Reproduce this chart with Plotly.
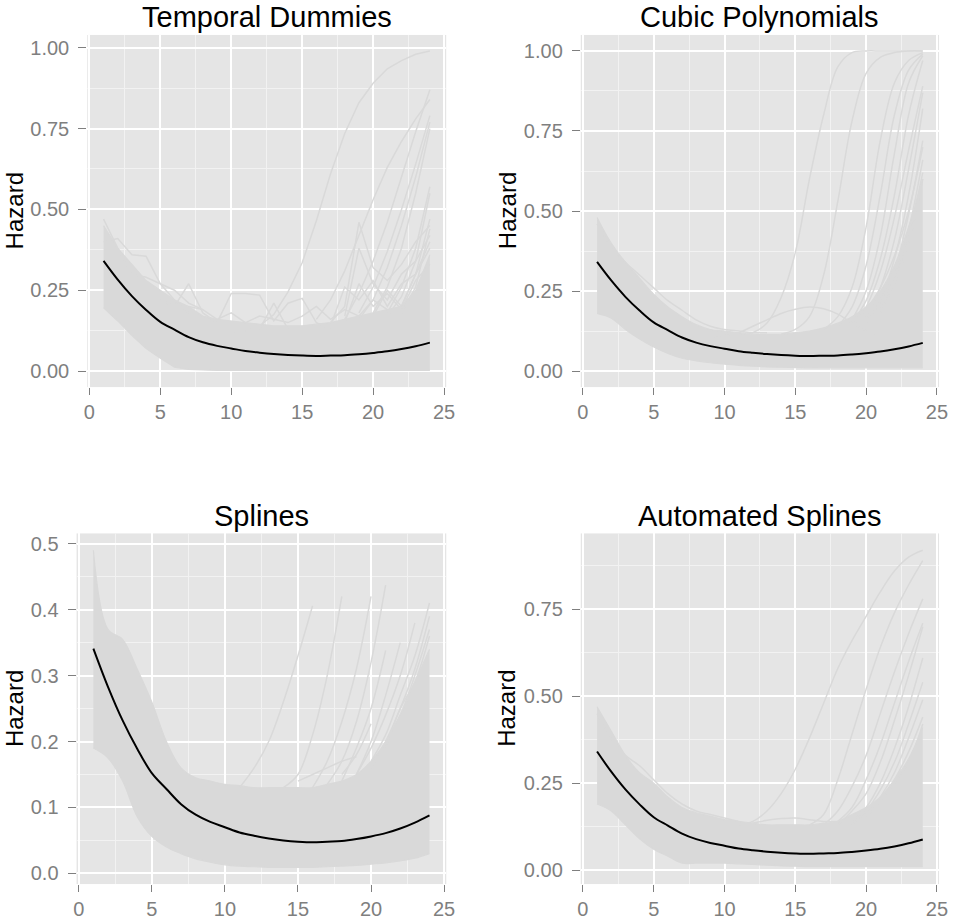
import plotly.graph_objects as go

# ---------------------------------------------------------------- data
t = list(range(1, 25))

# true baseline hazard (black curve, same in every panel)
true_hazard = [0.341, 0.283, 0.232, 0.189, 0.152, 0.128, 0.105, 0.089, 0.078, 0.070,
               0.062, 0.057, 0.053, 0.050, 0.048, 0.047, 0.048, 0.049, 0.052, 0.056,
               0.061, 0.068, 0.077, 0.088]

N = None

# --- Temporal Dummies: envelope of the bulk of simulated hazards
td_upper = [0.45, 0.38, 0.33, 0.28, 0.25, 0.22, 0.20, 0.17, 0.16, 0.155, 0.15, 0.145,
            0.14, 0.14, 0.14, 0.145, 0.15, 0.16, 0.17, 0.18, 0.19, 0.20, 0.25, 0.36]
td_lower = [0.196, 0.155, 0.11, 0.07, 0.04, 0.012, 0.005, 0.003, 0.002, 0.002, 0.002, 0.002,
            0.002, 0.002, 0.002, 0.002, 0.002, 0.002, 0.002, 0.002, 0.002, 0.002, 0.002, 0.002]
td_lines = [
    [0.40, 0.41, 0.36, 0.355, 0.27, 0.22, 0.18, N, N, N, N, N, N, N, N, N, N, N, N, N, N, N, N, N],
    [0.47, 0.38, 0.30, 0.29, 0.27, 0.25, 0.21, 0.19, N, N, N, N, N, N, N, N, N, N, N, N, N, N, N, N],
    [N, N, N, N, 0.22, 0.20, 0.27, 0.18, 0.15, N, N, N, N, N, N, N, N, N, N, N, N, N, N, N],
    [N, N, N, N, N, N, 0.20, 0.19, 0.16, 0.18, 0.15, 0.17, 0.16, 0.15, 0.17, 0.20, 0.16, 0.19, 0.17, 0.22, 0.19, N, N, N],
    [N, N, N, N, N, N, N, N, 0.15, 0.24, 0.24, 0.235, 0.155, 0.21, 0.225, 0.15, 0.13, N, N, N, N, N, N, N],
    [N, N, N, N, N, N, N, N, N, N, N, 0.13, 0.21, 0.13, N, N, N, N, N, N, N, N, N, N],
    [N, N, N, N, N, N, N, N, N, N, N, N, N, N, N, N, 0.15, 0.20, 0.46, 0.32, 0.28, 0.33, 0.40, 0.45],
    [N, N, N, N, N, N, N, N, N, N, N, N, N, N, N, N, N, 0.17, 0.38, 0.27, 0.22, 0.30, 0.34, 0.42],
    [N, N, N, N, N, N, N, N, N, N, N, N, N, N, N, N, 0.14, 0.26, 0.22, 0.28, 0.20, 0.27, 0.30, 0.40],
    [N, N, N, N, N, N, N, N, N, N, N, N, N, N, N, N, N, 0.15, 0.27, 0.20, 0.24, 0.19, 0.28, 0.33],
    [N, N, N, N, N, N, N, N, N, N, N, N, N, N, N, N, N, N, N, 0.17, 0.25, 0.20, 0.30, 0.38],
    [N, N, N, N, N, N, N, N, N, 0.12, 0.125, 0.14, 0.175, 0.245, 0.335, 0.465, 0.61, 0.735, 0.83, 0.89, 0.935, 0.96, 0.98, 0.99],
    [N, N, N, N, N, N, N, N, N, N, N, N, N, N, N, 0.16, 0.22, 0.31, 0.42, 0.53, 0.63, 0.71, 0.78, 0.84],
    [N, N, N, N, N, N, N, N, N, N, N, N, N, N, N, N, N, 0.16, 0.24, 0.34, 0.46, 0.60, 0.74, 0.87],
    [N, N, N, N, N, N, N, N, N, N, N, N, N, N, N, N, N, N, 0.18, 0.26, 0.37, 0.50, 0.64, 0.79],
    [N, N, N, N, N, N, N, N, N, N, N, N, N, N, N, N, N, N, 0.16, 0.22, 0.32, 0.45, 0.60, 0.77],
    [N, N, N, N, N, N, N, N, N, N, N, N, N, N, N, N, N, N, N, 0.18, 0.26, 0.38, 0.55, 0.75],
    [N, N, N, N, N, N, N, N, N, N, N, N, N, N, N, N, N, N, N, N, 0.18, 0.26, 0.38, 0.57],
    [N, N, N, N, N, N, N, N, N, N, N, N, N, N, N, N, N, N, N, N, 0.17, 0.23, 0.34, 0.55],
    [N, N, N, N, N, N, N, N, N, N, N, N, N, N, N, N, N, N, N, N, N, 0.20, 0.30, 0.47],
    [N, N, N, N, N, N, N, N, N, N, N, N, N, N, N, N, N, N, N, N, N, 0.18, 0.26, 0.44],
]

# --- Cubic Polynomials
cp_upper = [0.48, 0.40, 0.34, 0.29, 0.24, 0.20, 0.17, 0.145, 0.13, 0.125, 0.12, 0.115,
            0.115, 0.115, 0.12, 0.125, 0.135, 0.15, 0.17, 0.20, 0.25, 0.33, 0.45, 0.60]
cp_lower = [0.18, 0.165, 0.13, 0.10, 0.075, 0.055, 0.04, 0.032, 0.026, 0.022, 0.018, 0.015,
            0.013, 0.012, 0.011, 0.01, 0.01, 0.01, 0.01, 0.01, 0.01, 0.01, 0.01, 0.01]
cp_lines = [
    [N, N, N, N, N, N, N, N, N, N, 0.11, 0.12, 0.15, 0.23, 0.37, 0.60, 0.80, 0.95, 0.995, 1.0, 1.0, 1.0, 1.0, 1.0],
    [N, N, N, N, N, N, N, N, N, N, N, N, N, 0.115, 0.13, 0.17, 0.30, 0.53, 0.78, 0.93, 0.98, 0.995, 1.0, 1.0],
    [N, N, N, N, N, N, N, N, N, N, N, N, N, N, N, N, 0.13, 0.17, 0.26, 0.45, 0.72, 0.90, 0.97, 0.995],
    [N, N, N, N, N, N, N, N, N, N, N, N, N, N, N, N, N, 0.14, 0.20, 0.33, 0.55, 0.80, 0.94, 0.99],
    [N, N, N, N, N, N, N, N, N, N, N, N, N, N, N, N, N, N, 0.16, 0.25, 0.42, 0.68, 0.90, 0.985],
    [N, N, N, N, N, N, N, N, N, N, N, N, N, N, N, N, N, N, 0.15, 0.22, 0.35, 0.55, 0.80, 0.97],
    [N, N, N, N, N, N, N, N, N, N, N, N, N, N, N, N, N, N, 0.14, 0.20, 0.31, 0.48, 0.69, 0.89],
    [N, N, N, N, N, N, N, N, N, N, N, N, N, N, N, N, N, N, N, 0.17, 0.26, 0.41, 0.63, 0.87],
    [N, N, N, N, N, N, N, N, N, N, N, N, N, N, N, N, N, N, N, 0.15, 0.22, 0.35, 0.55, 0.82],
    [N, N, N, N, N, N, N, N, N, N, N, N, N, N, N, N, N, N, N, N, 0.20, 0.31, 0.49, 0.72],
    [N, N, N, N, N, N, N, N, N, N, N, N, N, N, N, N, N, N, N, 0.19, 0.26, 0.36, 0.50, 0.70],
    [N, N, N, N, N, N, N, N, N, N, N, N, N, N, N, N, N, N, N, N, 0.18, 0.28, 0.44, 0.66],
    [N, N, N, N, N, N, N, N, N, N, N, N, N, N, N, N, N, N, N, N, 0.22, 0.30, 0.43, 0.62],
    [N, N, N, N, N, N, N, N, N, N, N, N, N, N, N, N, N, N, N, N, N, 0.27, 0.40, 0.60],
    [N, N, N, N, N, N, N, N, 0.10, 0.11, 0.12, 0.14, 0.16, 0.18, 0.193, 0.20, 0.195, 0.178, 0.15, 0.125, 0.10, N, N, N],
    [0.46, 0.39, 0.34, 0.30, 0.26, 0.22, 0.19, 0.16, 0.14, 0.13, 0.125, 0.12, 0.12, N, N, N, N, N, N, N, N, N, N, N],
]

# --- Splines
sp_upper = [0.49, 0.37, 0.355, 0.31, 0.26, 0.20, 0.16, 0.145, 0.14, 0.135, 0.133, 0.13,
            0.13, 0.13, 0.13, 0.13, 0.135, 0.14, 0.15, 0.17, 0.20, 0.24, 0.29, 0.34]
sp_lower = [0.19, 0.175, 0.14, 0.086, 0.056, 0.04, 0.03, 0.022, 0.017, 0.013, 0.011, 0.01,
            0.009, 0.009, 0.009, 0.009, 0.01, 0.011, 0.012, 0.014, 0.016, 0.019, 0.023, 0.03]
sp_lines = [
    [N, N, N, N, N, N, N, N, N, N, 0.13, 0.16, 0.20, 0.26, 0.33, 0.406, N, N, N, N, N, N, N, N],
    [N, N, N, N, N, N, N, N, N, N, N, N, N, 0.13, 0.15, 0.21, 0.30, 0.42, N, N, N, N, N, N],
    [N, N, N, N, N, N, N, N, N, N, N, N, N, N, N, 0.13, 0.17, 0.23, 0.31, 0.42, N, N, N, N],
    [N, N, N, N, N, N, N, N, N, N, N, N, N, N, N, N, 0.135, 0.17, 0.23, 0.32, 0.437, N, N, N],
    [N, N, N, N, N, N, N, N, N, N, N, N, N, N, N, N, N, 0.14, 0.19, 0.25, 0.338, N, N, N],
    [N, N, N, N, N, N, N, N, N, N, N, N, N, N, N, N, N, N, 0.15, 0.19, 0.24, 0.30, 0.38, N],
    [N, N, N, N, N, N, N, N, N, N, N, N, N, N, N, N, N, N, 0.15, 0.20, 0.27, 0.35, N, N],
    [N, N, N, N, N, N, N, N, N, N, N, N, N, N, N, N, N, N, N, 0.17, 0.21, 0.27, 0.33, 0.41],
    [N, N, N, N, N, N, N, N, N, N, N, N, N, N, N, N, N, N, N, 0.16, 0.20, 0.25, 0.31, 0.39],
    [N, N, N, N, N, N, N, N, N, N, N, N, N, N, N, N, N, N, N, N, 0.20, 0.24, 0.30, 0.37],
    [N, N, N, N, N, N, N, N, N, N, N, N, N, N, N, N, N, N, N, N, 0.19, 0.25, 0.29, 0.36],
    [N, N, N, N, N, N, N, N, N, N, N, N, N, N, 0.14, 0.15, 0.16, 0.17, 0.177, N, N, N, N, N],
    [N, N, N, N, N, N, N, N, N, N, N, N, N, N, N, N, N, 0.15, 0.18, 0.227, N, N, N, N],
]

# --- Automated Splines
as_upper = [0.47, 0.40, 0.33, 0.28, 0.25, 0.21, 0.18, 0.165, 0.155, 0.145, 0.14, 0.135,
            0.13, 0.13, 0.13, 0.13, 0.135, 0.14, 0.16, 0.18, 0.21, 0.26, 0.32, 0.41]
as_lower = [0.19, 0.17, 0.13, 0.09, 0.06, 0.04, 0.02, 0.02, 0.02, 0.02, 0.018, 0.016,
            0.014, 0.012, 0.011, 0.01, 0.01, 0.01, 0.01, 0.01, 0.01, 0.01, 0.01, 0.01]
as_lines = [
    [N, N, N, N, N, N, N, N, N, N, 0.13, 0.14, 0.17, 0.22, 0.29, 0.38, 0.48, 0.58, 0.66, 0.73, 0.80, 0.86, 0.90, 0.92],
    [N, N, N, N, N, N, N, N, N, N, N, N, N, N, N, 0.13, 0.16, 0.26, 0.39, 0.52, 0.64, 0.74, 0.82, 0.89],
    [N, N, N, N, N, N, N, N, N, N, N, N, N, N, N, N, 0.13, 0.17, 0.24, 0.33, 0.45, 0.57, 0.68, 0.78],
    [N, N, N, N, N, N, N, N, N, N, N, N, N, N, N, N, N, 0.14, 0.18, 0.26, 0.36, 0.48, 0.60, 0.71],
    [N, N, N, N, N, N, N, N, N, N, N, N, N, N, N, N, N, 0.13, 0.17, 0.22, 0.31, 0.43, 0.56, 0.70],
    [N, N, N, N, N, N, N, N, N, N, N, N, N, N, N, N, N, N, 0.14, 0.18, 0.25, 0.35, 0.47, 0.61],
    [N, N, N, N, N, N, N, N, N, N, N, N, N, N, N, N, N, N, 0.13, 0.17, 0.23, 0.31, 0.42, 0.54],
    [N, N, N, N, N, N, N, N, N, N, N, N, N, N, N, N, N, N, N, 0.16, 0.21, 0.28, 0.38, 0.49],
    [N, N, N, N, N, N, N, N, N, N, N, N, N, N, N, N, N, N, N, 0.15, 0.20, 0.26, 0.34, 0.44],
    [N, N, N, N, N, N, N, N, N, N, N, N, N, N, N, N, N, N, N, N, 0.20, 0.25, 0.31, 0.42],
    [N, N, N, N, N, N, N, N, N, N, 0.13, 0.135, 0.143, 0.148, 0.15, 0.145, 0.14, 0.14, N, N, N, N, N, N],
    [0.45, 0.38, 0.33, 0.30, 0.26, 0.22, 0.19, 0.17, 0.16, 0.15, 0.14, N, N, N, N, N, N, N, N, N, N, N, N, N],
]

titles = ["Temporal Dummies", "Cubic Polynomials", "Splines", "Automated Splines"]
y_label = "Hazard"

# ---------------------------------------------------------------- layout helpers
W, H = 959, 922
FONT = "Liberation Sans, Arial, Helvetica, sans-serif"
BG = "#E5E5E5"
SIM = "#D9D9D9"
TICK = "#7F7F7F"


def px_x(p):
    return p / W


def px_y(p):
    return 1 - p / H


panels = [
    dict(title=titles[0], upper=td_upper, lower=td_lower, lines=td_lines, shape="linear",
         xdom=(85.3, 448.8), ydom=(34, 386.5), yrange=(-0.0495, 1.0395),
         yticks=[0, 0.25, 0.5, 0.75, 1.0], fmt=".2f", ydt=0.125, title_y=16),
    dict(title=titles[1], upper=cp_upper, lower=cp_lower, lines=cp_lines, shape="spline",
         xdom=(585.1, 947.9), ydom=(34, 386.5), yrange=(-0.05, 1.05),
         yticks=[0, 0.25, 0.5, 0.75, 1.0], fmt=".2f", ydt=0.125, title_y=16),
    dict(title=titles[2], upper=sp_upper, lower=sp_lower, lines=sp_lines, shape="spline",
         xdom=(74.5, 448.9), ydom=(533, 884), yrange=(-0.0162, 0.5156),
         yticks=[0, 0.1, 0.2, 0.3, 0.4, 0.5], fmt=".1f", ydt=0.05, title_y=516),
    dict(title=titles[3], upper=as_upper, lower=as_lower, lines=as_lines, shape="spline",
         xdom=(585.1, 947.9), ydom=(533, 884), yrange=(-0.0402, 0.9684),
         yticks=[0, 0.25, 0.5, 0.75], fmt=".2f", ydt=0.125, title_y=516),
]

fig = go.Figure()
annotations = []

for i, p in enumerate(panels, start=1):
    xa = "x" if i == 1 else f"x{i}"
    ya = "y" if i == 1 else f"y{i}"

    # bulk of the simulated hazard curves: lower edge, then upper edge filled down to it
    fig.add_trace(go.Scatter(
        x=t, y=p["lower"], mode="lines",
        line=dict(color=SIM, width=1.2, shape=p["shape"]),
        hoverinfo="skip", showlegend=False, xaxis=xa, yaxis=ya))
    fig.add_trace(go.Scatter(
        x=t, y=p["upper"], mode="lines", fill="tonexty", fillcolor=SIM,
        line=dict(color=SIM, width=1.2, shape=p["shape"]),
        hoverinfo="skip", showlegend=False, xaxis=xa, yaxis=ya))

    # individual simulated curves that stray from the bulk
    for ln in p["lines"]:
        fig.add_trace(go.Scatter(
            x=t, y=ln, mode="lines", connectgaps=False,
            line=dict(color=SIM, width=1.5, shape=p["shape"]),
            hoverinfo="skip", showlegend=False, xaxis=xa, yaxis=ya))

    # true hazard
    fig.add_trace(go.Scatter(
        x=t, y=true_hazard, mode="lines",
        line=dict(color="black", width=2, shape="spline"),
        showlegend=False, xaxis=xa, yaxis=ya))

    xkey = "xaxis" if i == 1 else f"xaxis{i}"
    ykey = "yaxis" if i == 1 else f"yaxis{i}"
    fig.layout[xkey] = dict(
        domain=[px_x(p["xdom"][0]), px_x(p["xdom"][1])], anchor=ya,
        range=[-0.15, 25.15], tickvals=[0, 5, 10, 15, 20, 25],
        ticks="outside", ticklen=7, tickwidth=1.4, tickcolor=TICK,
        tickfont=dict(family=FONT, size=20, color=TICK),
        showgrid=True, gridcolor="white", gridwidth=2, zeroline=False, showline=False,
        minor=dict(dtick=2.5, tick0=0, showgrid=True, gridcolor="#F2F2F2", gridwidth=1, ticks=""),
        fixedrange=True)
    fig.layout[ykey] = dict(
        domain=[px_y(p["ydom"][1]), px_y(p["ydom"][0])], anchor=xa,
        range=list(p["yrange"]), tickvals=p["yticks"], tickformat=p["fmt"],
        ticks="outside", ticklen=8, tickwidth=1.4, tickcolor=TICK, ticklabelstandoff=5,
        tickfont=dict(family=FONT, size=20, color=TICK),
        showgrid=True, gridcolor="white", gridwidth=2, zeroline=False, showline=False,
        minor=dict(dtick=p["ydt"], tick0=0, showgrid=True, gridcolor="#F2F2F2", gridwidth=1, ticks=""),
        fixedrange=True)

    cx = (p["xdom"][0] + p["xdom"][1]) / 2
    annotations.append(dict(
        text=p["title"], x=px_x(cx), y=px_y(p["title_y"]), xref="paper", yref="paper",
        xanchor="center", yanchor="middle", showarrow=False,
        font=dict(family=FONT, size=29, color="black")))
    lab_x = 11.5 if p["xdom"][0] < 300 else 510.5
    annotations.append(dict(
        text=y_label, x=px_x(lab_x), y=px_y((p["ydom"][0] + p["ydom"][1]) / 2),
        xref="paper", yref="paper", xanchor="center", yanchor="middle",
        textangle=-90, showarrow=False,
        font=dict(family=FONT, size=24, color="black")))

fig.update_layout(
    width=W, height=H, margin=dict(l=0, r=0, t=0, b=0),
    paper_bgcolor="white", plot_bgcolor=BG,
    annotations=annotations, showlegend=False)

fig.write_html("out.html", config={"displayModeBar": False})
